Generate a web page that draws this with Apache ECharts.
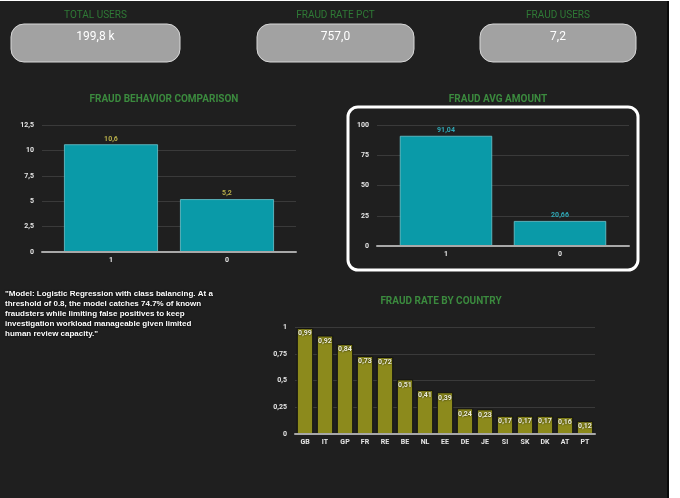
<!DOCTYPE html>
<html><head><meta charset="utf-8">
<script src="https://cdn.jsdelivr.net/npm/echarts@6/dist/echarts.min.js"></script>
<style>html,body{margin:0;padding:0;background:#fff;}#c{width:680px;height:498px;}</style>
</head><body><div id="c"></div>
<script>
const kpiTitles = ['TOTAL USERS', 'FRAUD RATE PCT', 'FRAUD USERS'];
const kpiValues = ['199,8 k', '757,0', '7,2'];
const behaviorCats = ['1', '0'];
const behaviorVals = [10.6, 5.2];
const avgCats = ['1', '0'];
const avgVals = [91.04, 20.66];
const countries = ['GB','IT','GP','FR','RE','BE','NL','EE','DE','JE','SI','SK','DK','AT','PT'];
const countryRates = [0.99,0.92,0.84,0.73,0.72,0.51,0.41,0.39,0.24,0.23,0.17,0.17,0.17,0.16,0.12];
const noteText = '"Model: Logistic Regression with class balancing. At a\nthreshold of 0.8, the model catches 74.7% of known\nfraudsters while limiting false positives to keep\ninvestigation workload manageable given limited\nhuman review capacity."';

const comma = v => String(v).replace('.', ',');
const chart = echarts.init(document.getElementById('c'));

const cards = [{x:11,w:169},{x:257,w:157},{x:480,w:156}];
const graphics = [
  {type:'rect', shape:{x:0,y:0,width:680,height:498}, style:{fill:'#ffffff'}, z:-10},
  {type:'rect', shape:{x:0,y:1,width:668,height:497}, style:{fill:'#1f1f1f'}, z:-9},
  {type:'rect', shape:{x:667,y:1,width:2,height:497}, style:{fill:'#0a0a0a'}, z:-8},
  {type:'rect', shape:{x:348,y:107,width:290,height:163,r:10}, style:{fill:'none',stroke:'#ffffff',lineWidth:3}, z:5}
];
cards.forEach((c,i)=>{
  graphics.push({type:'rect', shape:{x:c.x,y:24,width:c.w,height:38,r:13}, style:{fill:'#a2a2a2',stroke:'#d8d8d8',lineWidth:1}});
  graphics.push({type:'text', x:c.x+c.w/2, y:15, style:{text:kpiTitles[i], fill:'#2f7a36', font:'10px "Liberation Sans Narrow", Roboto, sans-serif', textAlign:'center', textVerticalAlign:'middle'}});
  graphics.push({type:'text', x:c.x+c.w/2, y:36.5, style:{text:kpiValues[i], fill:'#ffffff', font:'12px "Liberation Sans Narrow", Roboto, sans-serif', textAlign:'center', textVerticalAlign:'middle'}});
});
graphics.push({type:'text', x:5, y:288.5, style:{text:noteText, fill:'#ffffff', font:'bold 8px "Liberation Sans", Arial, sans-serif', lineHeight:10, textShadowColor:'#000', textShadowBlur:2}});

const axisLbl = {color:'#e6e6e6', fontSize:7, fontWeight:'bold', fontFamily:'Roboto'};
const titleStyle = {color:'#3b8a3e', fontSize:10, fontWeight:'bold', fontFamily:'Roboto'};
const frameX = (gi, cats) => ({gridIndex:gi, type:'category', data:cats, z:3, axisTick:{show:false}, axisLabel:{show:false}, axisLine:{lineStyle:{color:'#a8a8a8',width:2}}});
const barX = (gi, cats) => ({gridIndex:gi, type:'category', data:cats, axisTick:{show:false}, axisLine:{show:false}, axisLabel:Object.assign({margin:5},axisLbl)});
const frameY = (gi, max, iv) => ({gridIndex:gi, type:'value', min:0, max:max, interval:iv, axisLabel:Object.assign({formatter:comma, margin:8},axisLbl), splitLine:{lineStyle:{color:'#3a3a3a'}}});
const hiddenY = (gi, max, iv) => ({gridIndex:gi, type:'value', min:0, max:max, interval:iv, show:false});

chart.setOption({
  animation:false,
  backgroundColor:'transparent',
  graphic: graphics,
  title:[
    {text:'FRAUD BEHAVIOR COMPARISON', left:159, top:89, textAlign:'center', textStyle:titleStyle},
    {text:'FRAUD AVG AMOUNT', left:493, top:89, textAlign:'center', textStyle:titleStyle},
    {text:'FRAUD RATE BY COUNTRY', left:436, top:291, textAlign:'center', textStyle:titleStyle}
  ],
  grid:[
    {left:42, top:125, width:254, height:127},
    {left:53, top:125, width:232, height:127},
    {left:377, top:125, width:252, height:121},
    {left:389, top:125, width:228, height:121},
    {left:295, top:327, width:300, height:107}
  ],
  xAxis:[
    frameX(0, behaviorCats), barX(1, behaviorCats),
    frameX(2, avgCats), barX(3, avgCats),
    {gridIndex:4, type:'category', data:countries, z:3, axisTick:{show:false}, axisLine:{lineStyle:{color:'#a8a8a8',width:2}}, axisLabel:Object.assign({margin:5},axisLbl)}
  ],
  yAxis:[
    frameY(0, 12.5, 2.5), hiddenY(1, 12.5, 2.5),
    frameY(2, 100, 25), hiddenY(3, 100, 25),
    frameY(4, 1, 0.25)
  ],
  series:[
    {type:'bar', xAxisIndex:1, yAxisIndex:1, data:behaviorVals, barCategoryGap:'19%',
     itemStyle:{color:'#0a9aa8', borderColor:'#6cc6cf', borderWidth:0.8},
     label:{show:true, position:'top', distance:2, formatter:p=>comma(p.value), color:'#b7ae4a', fontSize:7, fontWeight:'bold', fontFamily:'Roboto'}},
    {type:'bar', xAxisIndex:3, yAxisIndex:3, data:avgVals, barCategoryGap:'19%',
     itemStyle:{color:'#0a9aa8', borderColor:'#6cc6cf', borderWidth:0.8},
     label:{show:true, position:'top', distance:2, formatter:p=>comma(p.value), color:'#2fa8b6', fontSize:7, fontWeight:'bold', fontFamily:'Roboto'}},
    {type:'bar', xAxisIndex:4, yAxisIndex:4, data:countryRates, barCategoryGap:'18%',
     itemStyle:{color:'#8c8a1c', borderColor:'#111', borderWidth:1},
     label:{show:true, position:'insideTop', distance:2, formatter:p=>comma(p.value), color:'#f0f0d8', fontSize:7, fontWeight:'bold', fontFamily:'Roboto', textShadowColor:'#000', textShadowBlur:2}}
  ]
});
</script></body></html>
